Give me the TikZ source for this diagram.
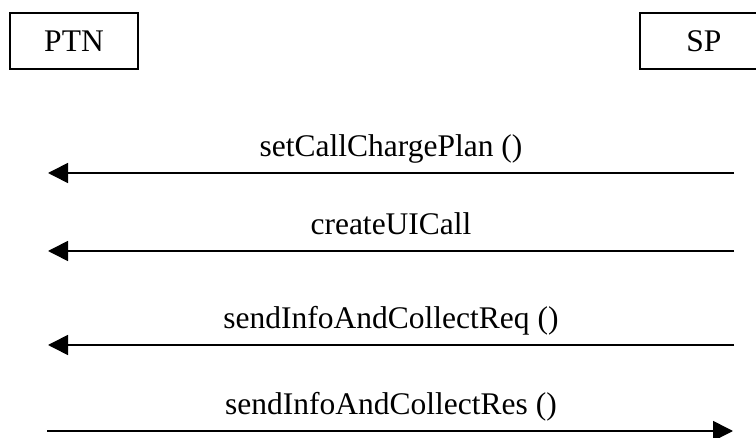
\documentclass[tikz,border=0pt]{standalone}
\usepackage{fontspec}
\setmainfont{Liberation Serif}
\usetikzlibrary{arrows.meta}
\begin{document}
\begin{tikzpicture}[x=1pt,y=-1pt,
  entity/.style={draw=black, line width=1.3pt, minimum width=128pt, minimum height=56pt, inner sep=0pt,
    font=\fontsize{31.5}{38}\selectfont},
  msg/.style={line width=1.6pt, -{Triangle[length=20pt,width=20pt]}},
  lbl/.style={anchor=base, inner sep=0pt, font=\fontsize{31.5}{38}\selectfont}]
\clip (0,0) rectangle (756,438);
\fill[white] (0,0) rectangle (756,438);
\node[entity] (ptn) at (74,41) {PTN};
\node[entity] (sp) at (704,41) {SP};
% message end points
\coordinate (r1) at (734,173); \coordinate (l1) at (48,173);
\coordinate (r2) at (734,251); \coordinate (l2) at (48,251);
\coordinate (r3) at (734,345); \coordinate (l3) at (48,345);
\coordinate (l4) at (47,431);  \coordinate (r4) at (733,431);
\draw[msg] (r1) -- (l1);
\draw[msg] (r2) -- (l2);
\draw[msg] (r3) -- (l3);
\draw[msg] (l4) -- (r4);
\node[lbl] (m1) at (391,157) {setCallChargePlan ()};
\node[lbl] (m2) at (391,235) {createUICall};
\node[lbl] (m3) at (391,329) {sendInfoAndCollectReq ()};
\node[lbl] (m4) at (391,415) {sendInfoAndCollectRes ()};
\end{tikzpicture}
\end{document}
